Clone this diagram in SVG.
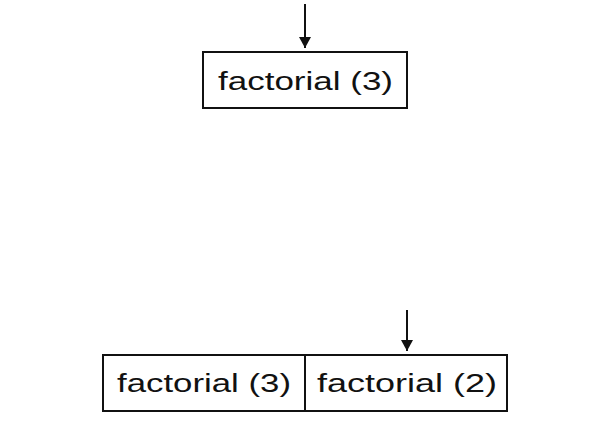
<svg xmlns="http://www.w3.org/2000/svg" width="610" height="423" viewBox="0 0 610 423">
<defs>
<marker id="ah" markerWidth="12" markerHeight="12" refX="11" refY="6" orient="auto" markerUnits="userSpaceOnUse" viewBox="0 0 12 12">
<path d="M0,0 L11,6 L0,12 Z" fill="#111"/>
</marker>
</defs>
<style>
.box{fill:#fff;stroke:#111;stroke-width:2}
.lbl{font-family:"Comic Sans MS","Liberation Sans",sans-serif;font-size:26px;fill:#111}
.con{stroke:#111;stroke-width:2;fill:none}
</style>
<rect width="610" height="423" fill="#fff"/>
<g id="connectors">
<line class="con" x1="305" y1="4" x2="305" y2="48" marker-end="url(#ah)"/>
<line class="con" x1="407" y1="310" x2="407" y2="351" marker-end="url(#ah)"/>
</g>
<g id="top-factorial3">
<rect class="box" x="203" y="52" width="204" height="56"/>
<text class="lbl" x="218" y="90" textLength="175" lengthAdjust="spacingAndGlyphs">factorial (3)</text>
</g>
<g id="stack-factorial3">
<rect class="box" x="103" y="355" width="202" height="56"/>
<text class="lbl" x="117" y="392" textLength="174" lengthAdjust="spacingAndGlyphs">factorial (3)</text>
</g>
<g id="stack-factorial2">
<rect class="box" x="305" y="355" width="202" height="56"/>
<text class="lbl" x="317" y="392" textLength="180" lengthAdjust="spacingAndGlyphs">factorial (2)</text>
</g>
</svg>
